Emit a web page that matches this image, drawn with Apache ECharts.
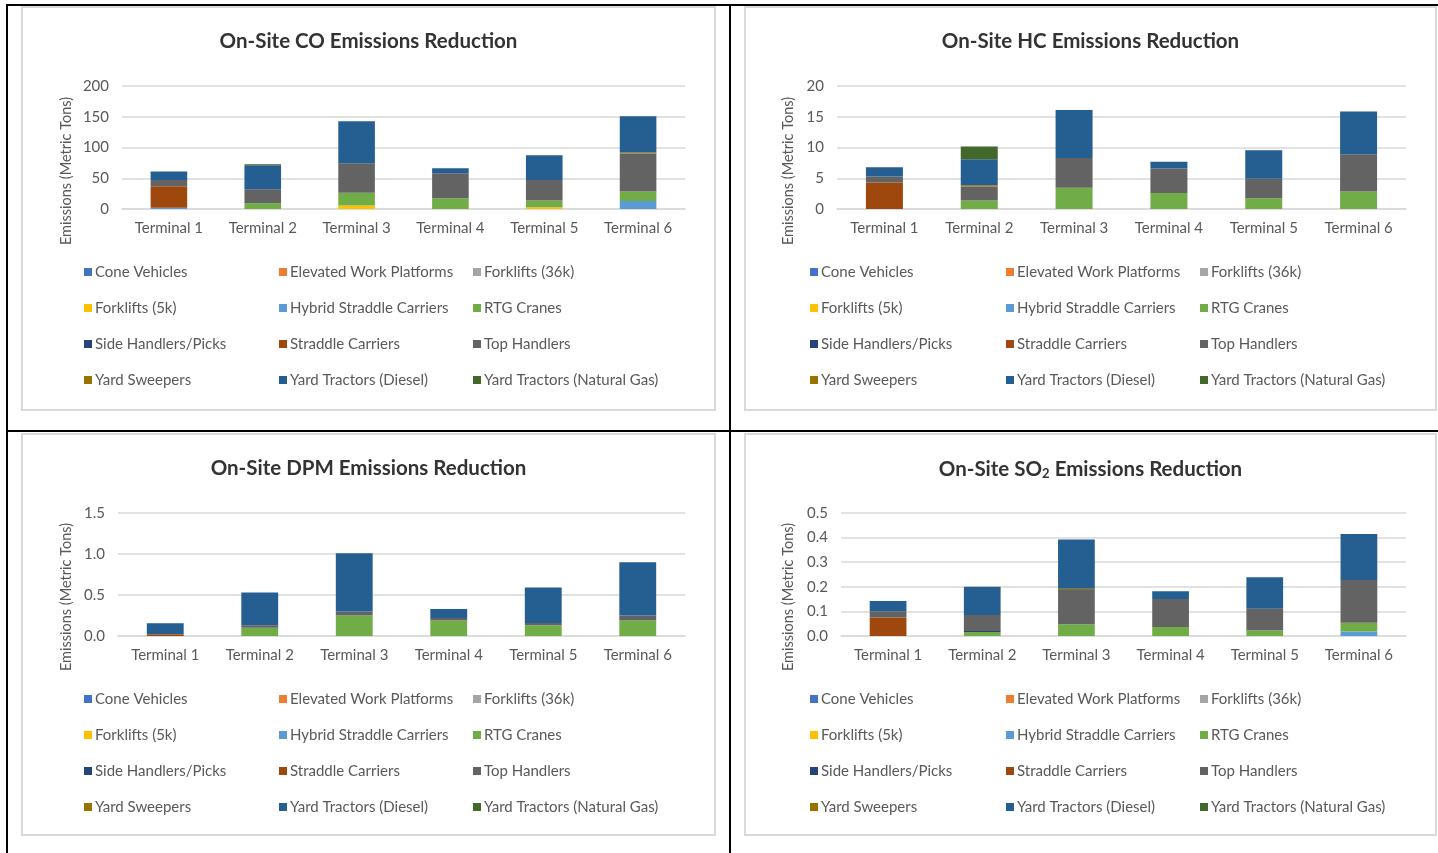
<!DOCTYPE html>
<html>
<head>
<meta charset="utf-8">
<script src="https://cdn.jsdelivr.net/npm/echarts@6/dist/echarts.min.js"></script>
<style>
  html, body { margin: 0; padding: 0; background: #fff; }
  body { width: 1438px; height: 853px; position: relative; overflow: hidden; }
  .rule { position: absolute; background: #000; }
  .box { position: absolute; box-sizing: border-box; border: 2px solid #d9d9d9; background: #fff; }
  .box > div { width: 100%; height: 100%; }
</style>
</head>
<body>
<div class="rule" style="left:6px;top:4px;width:1432px;height:2px"></div>
<div class="rule" style="left:6px;top:4px;width:2px;height:849px"></div>
<div class="rule" style="left:729px;top:4px;width:2px;height:849px"></div>
<div class="rule" style="left:6px;top:430px;width:1432px;height:2px"></div>

<div class="box" style="left:21px;top:6px;width:695px;height:405px"><div id="co"></div></div>
<div class="box" style="left:744px;top:6px;width:693px;height:405px"><div id="hc"></div></div>
<div class="box" style="left:21px;top:433px;width:695px;height:403px"><div id="dpm"></div></div>
<div class="box" style="left:744px;top:433px;width:693px;height:403px"><div id="so2"></div></div>

<script>
// Terminals on the category axis
const terminals = ['Terminal 1', 'Terminal 2', 'Terminal 3', 'Terminal 4', 'Terminal 5', 'Terminal 6'];

// Equipment types, in stacking / legend order
const equipment = [
  'Cone Vehicles', 'Elevated Work Platforms', 'Forklifts (36k)',
  'Forklifts (5k)', 'Hybrid Straddle Carriers', 'RTG Cranes',
  'Side Handlers/Picks', 'Straddle Carriers', 'Top Handlers',
  'Yard Sweepers', 'Yard Tractors (Diesel)', 'Yard Tractors (Natural Gas)'
];
const equipmentColors = [
  '#4472C4', '#ED7D31', '#A5A5A5', '#FFC000', '#5B9BD5', '#70AD47',
  '#264478', '#9E480E', '#636363', '#997300', '#255E91', '#43682B'
];

// CO reduction (metric tons)
const coCone       = [0, 0, 0, 0, 0, 0];
const coLift       = [0, 0, 0, 0, 0, 0];
const coFork36     = [0, 0, 0, 0, 0, 0];
const coFork5      = [0, 0, 5.5, 0, 2.7, 0];
const coHybrid     = [2, 0, 0, 0, 0, 13];
const coRtg        = [0, 9.3, 21, 17.6, 11, 15.4];
const coSide       = [0, 0, 0, 0, 0, 0];
const coStraddle   = [35, 0, 0, 0, 0, 0];
const coTop        = [10, 23, 48, 40.6, 33.5, 62];
const coSweeper    = [0, 0, 0, 0, 0, 1.6];
const coYtDiesel   = [14, 39, 68, 8.2, 40, 59];
const coYtGas      = [0, 1.5, 0, 0, 0, 0];

// HC reduction (metric tons)
const hcCone       = [0, 0, 0, 0, 0, 0];
const hcLift       = [0, 0, 0, 0, 0, 0];
const hcFork36     = [0, 0, 0, 0, 0, 0];
const hcFork5      = [0, 0, 0, 0, 0, 0];
const hcHybrid     = [0, 0, 0, 0, 0, 0];
const hcRtg        = [0, 1.37, 3.44, 2.6, 1.75, 2.84];
const hcSide       = [0, 0, 0, 0, 0, 0];
const hcStraddle   = [4.3, 0, 0, 0, 0, 0];
const hcTop        = [1.0, 2.3, 4.86, 4.0, 3.17, 6.07];
const hcSweeper    = [0, 0.2, 0, 0, 0, 0];
const hcYtDiesel   = [1.5, 4.2, 7.8, 1.1, 4.64, 6.94];
const hcYtGas      = [0, 2.1, 0, 0, 0, 0];

// DPM reduction (metric tons)
const dpmCone      = [0, 0, 0, 0, 0, 0];
const dpmLift      = [0, 0, 0, 0, 0, 0];
const dpmFork36    = [0, 0, 0, 0, 0, 0];
const dpmFork5     = [0, 0, 0, 0, 0, 0];
const dpmHybrid    = [0, 0, 0, 0, 0, 0];
const dpmRtg       = [0, 0.1, 0.25, 0.19, 0.13, 0.19];
const dpmSide      = [0, 0, 0, 0, 0, 0];
const dpmStraddle  = [0.02, 0, 0, 0, 0, 0];
const dpmTop       = [0.005, 0.03, 0.05, 0.03, 0.03, 0.06];
const dpmSweeper   = [0, 0, 0, 0, 0, 0];
const dpmYtDiesel  = [0.13, 0.4, 0.71, 0.11, 0.43, 0.65];
const dpmYtGas     = [0, 0, 0, 0, 0, 0];

// SO2 reduction (metric tons)
const so2Cone      = [0, 0, 0, 0, 0, 0];
const so2Lift      = [0, 0, 0, 0, 0, 0];
const so2Fork36    = [0, 0, 0, 0, 0, 0];
const so2Fork5     = [0, 0, 0, 0, 0, 0];
const so2Hybrid    = [0, 0, 0, 0, 0, 0.018];
const so2Rtg       = [0, 0.016, 0.048, 0.037, 0.022, 0.036];
const so2Side      = [0, 0.004, 0, 0, 0, 0];
const so2Straddle  = [0.075, 0, 0, 0, 0, 0];
const so2Top       = [0.026, 0.065, 0.139, 0.113, 0.089, 0.174];
const so2Sweeper   = [0, 0, 0.005, 0, 0, 0];
const so2YtDiesel  = [0.041, 0.115, 0.2, 0.032, 0.128, 0.187];
const so2YtGas     = [0, 0, 0, 0, 0, 0];

// Axis ticks per chart
const coTicks  = [0, 50, 100, 150, 200];
const hcTicks  = [0, 5, 10, 15, 20];
const dpmTicks = [0, 0.5, 1.0, 1.5];
const so2Ticks = [0, 0.1, 0.2, 0.3, 0.4, 0.5];

const yAxisTitle = 'Emissions (Metric Tons)';

const FONT = 'Lato, "Open Sans", sans-serif';
const GREY_TEXT = '#595959';
const TITLE_TEXT = '#333333';

// Legend laid out as three columns of four entries
const legendColumns = [
  ['Cone Vehicles', 'Forklifts (5k)', 'Side Handlers/Picks', 'Yard Sweepers'],
  ['Elevated Work Platforms', 'Hybrid Straddle Carriers', 'Straddle Carriers', 'Yard Tractors (Diesel)'],
  ['Forklifts (36k)', 'RTG Cranes', 'Top Handlers', 'Yard Tractors (Natural Gas)']
];

function buildChart(id, cfg) {
  const chart = echarts.init(document.getElementById(id), null, { renderer: 'canvas' });
  const ticks = cfg.ticks;
  const series = equipment.map((name, i) => ({
    name: name,
    type: 'bar',
    stack: 'total',
    barWidth: '39%',
    data: cfg.values[i],
    itemStyle: { color: equipmentColors[i] },
    emphasis: { disabled: true }
  }));
  const titleStyle = { fontFamily: FONT, fontSize: 20.5, fontWeight: 'bold', color: TITLE_TEXT };
  chart.setOption({
    animation: false,
    textStyle: { fontFamily: FONT },
    title: {
      text: cfg.title,
      left: 'center',
      top: 18,
      textStyle: Object.assign({}, titleStyle, {
        rich: {
          b: titleStyle,
          sub: Object.assign({}, titleStyle, { fontSize: 13, padding: [9, 0, 0, 0] })
        }
      })
    },
    grid: { left: cfg.left, right: 29, top: 78, height: 123 },
    xAxis: {
      type: 'category',
      data: terminals,
      axisLine: { lineStyle: { color: '#d9d9d9', width: 1.5 } },
      axisTick: { show: false },
      axisLabel: { color: GREY_TEXT, fontSize: 15, fontFamily: FONT, margin: 12 }
    },
    yAxis: {
      type: 'value',
      min: ticks[0],
      max: ticks[ticks.length - 1],
      interval: ticks[1] - ticks[0],
      axisLine: { show: false },
      axisTick: { show: false },
      axisLabel: {
        color: GREY_TEXT, fontSize: 15, fontFamily: FONT, margin: 13,
        formatter: v => cfg.decimals ? v.toFixed(cfg.decimals) : String(v)
      },
      splitLine: { lineStyle: { color: '#d9d9d9', width: 1.5 } }
    },
    graphic: [{
      type: 'text',
      x: cfg.nameX,
      y: cfg.nameY,
      rotation: Math.PI / 2,
      style: {
        text: yAxisTitle, fill: GREY_TEXT, fontFamily: FONT, fontSize: 14.5,
        align: 'center', verticalAlign: 'middle'
      }
    }],
    legend: legendColumns.map((col, c) => ({
      orient: 'vertical',
      left: cfg.legendLeft[c],
      top: 251,
      icon: 'rect',
      itemWidth: 8,
      itemHeight: 8,
      itemGap: 20,
      selectedMode: false,
      textStyle: { color: GREY_TEXT, fontSize: 15, fontFamily: FONT, lineHeight: 16, padding: [0, 0, 0, -2] },
      data: col
    })),
    series: series
  });
}

buildChart('co', {
  title: 'On-Site CO Emissions Reduction',
  ticks: coTicks, decimals: 0, left: 99, nameX: 43, nameY: 163, legendLeft: [56, 251, 445],
  values: [coCone, coLift, coFork36, coFork5, coHybrid, coRtg, coSide, coStraddle, coTop, coSweeper, coYtDiesel, coYtGas]
});
buildChart('hc', {
  title: 'On-Site HC Emissions Reduction',
  ticks: hcTicks, decimals: 0, left: 91, nameX: 42, nameY: 163, legendLeft: [59, 255, 449],
  values: [hcCone, hcLift, hcFork36, hcFork5, hcHybrid, hcRtg, hcSide, hcStraddle, hcTop, hcSweeper, hcYtDiesel, hcYtGas]
});
buildChart('dpm', {
  title: 'On-Site DPM Emissions Reduction',
  ticks: dpmTicks, decimals: 1, left: 95, nameX: 43, nameY: 162, legendLeft: [56, 251, 445],
  values: [dpmCone, dpmLift, dpmFork36, dpmFork5, dpmHybrid, dpmRtg, dpmSide, dpmStraddle, dpmTop, dpmSweeper, dpmYtDiesel, dpmYtGas]
});
buildChart('so2', {
  title: '{b|On-Site SO}{sub|2}{b| Emissions Reduction}',
  ticks: so2Ticks, decimals: 1, left: 95, nameX: 42, nameY: 162, legendLeft: [59, 255, 449],
  values: [so2Cone, so2Lift, so2Fork36, so2Fork5, so2Hybrid, so2Rtg, so2Side, so2Straddle, so2Top, so2Sweeper, so2YtDiesel, so2YtGas]
});
</script>
</body>
</html>
